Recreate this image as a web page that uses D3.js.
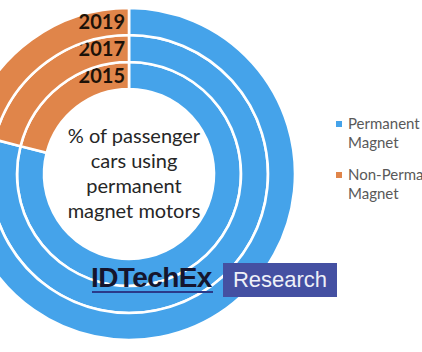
<!DOCTYPE html>
<html>
<head>
<meta charset="utf-8">
<script src="https://cdn.jsdelivr.net/npm/d3@7"></script>
<style>
  html, body { margin: 0; padding: 0; background: #fff; }
  svg { display: block; }
</style>
</head>
<body>
<svg id="chart"></svg>
<script>
// Données (% des voitures)
const years = ["2015", "2017", "2019"];
const seriesNames = ["Permanent Magnet", "Non-Permanent Magnet"];
const permanentMagnet = [79, 79, 80];
const nonPermanentMagnet = [21, 21, 20];
const centerLines = ["% of passenger", "cars using", "permanent", "magnet motors"];

const width = 422, height = 352;
const cx = 129, cy = 174;
const innerR = 85, outerR = 166;

const colors = ["#45a3ea", "#e0854a"];

const svg = d3.select("#chart")
    .attr("width", width)
    .attr("height", height);

// Un anneau par année, 2015 au centre
const ring = d3.scaleBand()
    .domain(years)
    .range([innerR, outerR])
    .padding(0);

const pie = d3.pie()
    .sort(null)
    .value(d => d);

const g = svg.append("g")
    .attr("transform", `translate(${cx},${cy})`);

years.forEach((year, i) => {
    const arc = d3.arc()
        .innerRadius(ring(year))
        .outerRadius(ring(year) + ring.bandwidth());

    g.append("g")
        .selectAll("path")
        .data(pie([permanentMagnet[i], nonPermanentMagnet[i]]))
        .enter()
        .append("path")
        .attr("d", arc)
        .attr("fill", (d, j) => colors[j])
        .attr("stroke", "#fff")
        .attr("stroke-width", 2.6);

    // Étiquette de l'année, juste à gauche du départ
    g.append("text")
        .attr("x", -4)
        .attr("y", -(ring(year) + ring.bandwidth() / 2))
        .attr("dy", "0.36em")
        .attr("text-anchor", "end")
        .style("font-family", "Lato, 'Open Sans', sans-serif")
        .style("font-weight", "bold")
        .style("font-size", "20px")
        .attr("fill", "#1d1208")
        .text(year);
});

// Texte au centre
g.append("g")
    .selectAll("text")
    .data(centerLines)
    .enter()
    .append("text")
    .attr("x", 5)
    .attr("y", (d, i) => -38 + i * 25)
    .attr("dy", "0.35em")
    .attr("text-anchor", "middle")
    .style("font-family", "Lato, 'Open Sans', sans-serif")
    .style("font-size", "20px")
    .attr("fill", "#262626")
    .text(d => d);

// Légende (coupée par le bord droit comme dans l'original)
const legend = svg.append("g")
    .attr("transform", "translate(336,118)");

seriesNames.forEach((name, i) => {
    const item = legend.append("g")
        .attr("transform", `translate(0,${i * 51})`);
    item.append("rect")
        .attr("x", 0)
        .attr("y", 3)
        .attr("width", 6)
        .attr("height", 6)
        .attr("fill", colors[i]);
    const words = name === "Permanent Magnet" ? ["Permanent", "Magnet"] : ["Non-Permanent", "Magnet"];
    item.selectAll("text")
        .data(words)
        .enter()
        .append("text")
        .attr("x", 12)
        .attr("y", (d, k) => 6 + k * 19)
        .attr("dy", "0.35em")
        .style("font-family", "Lato, 'Open Sans', sans-serif")
        .style("font-size", "15px")
        .attr("fill", "#595959")
        .text(d => d);
});

// Logo IDTechEx Research
const logo = svg.append("g");
logo.append("text")
    .attr("x", 91)
    .attr("y", 287)
    .style("font-family", "'Liberation Sans', Arial, sans-serif")
    .style("font-weight", "bold")
    .style("font-size", "28px")
    .style("letter-spacing", "-0.6px")
    .attr("fill", "#15152e")
    .text("IDTechEx");
logo.append("rect")
    .attr("x", 92)
    .attr("y", 291)
    .attr("width", 121)
    .attr("height", 2)
    .attr("fill", "#2a3a8a");
logo.append("rect")
    .attr("x", 223)
    .attr("y", 263)
    .attr("width", 114)
    .attr("height", 34)
    .attr("fill", "#4450a2");
logo.append("text")
    .attr("x", 280)
    .attr("y", 287)
    .attr("text-anchor", "middle")
    .style("font-family", "'Liberation Sans', Arial, sans-serif")
    .style("font-size", "22px")
    .attr("fill", "#eef0f8")
    .text("Research");
</script>
</body>
</html>
